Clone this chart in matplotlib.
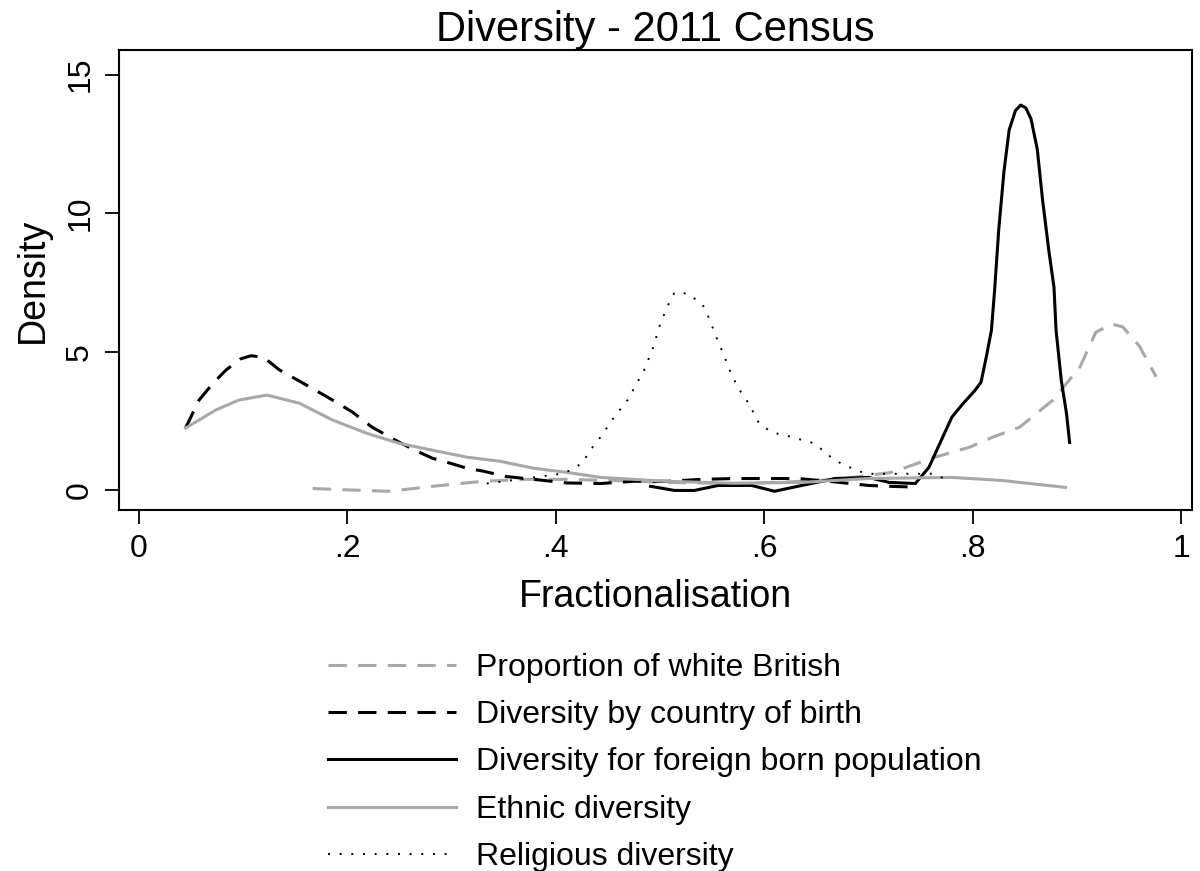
import matplotlib
matplotlib.use("Agg")
import matplotlib.pyplot as plt

plt.rcParams['font.family'] = ['Liberation Sans', 'DejaVu Sans']

# density curves
wb_x = [0.167, 0.2, 0.241, 0.282, 0.33, 0.37, 0.411, 0.46, 0.507, 0.571, 0.62, 0.67,
        0.722, 0.764, 0.797, 0.819, 0.845, 0.877, 0.903, 0.918, 0.933, 0.944, 0.96, 0.976]
wb_y = [0.07, 0.02, -0.03, 0.15, 0.33, 0.4, 0.4, 0.35, 0.29, 0.25, 0.3, 0.4,
        0.65, 1.2, 1.56, 1.92, 2.28, 3.26, 4.46, 5.7, 6.0, 5.9, 5.2, 4.1]

cob_x = [0.045, 0.058, 0.071, 0.084, 0.098, 0.108, 0.12, 0.135, 0.161, 0.186, 0.205, 0.224,
         0.25, 0.265, 0.282, 0.299, 0.315, 0.33, 0.353, 0.379, 0.411, 0.443, 0.475, 0.507,
         0.54, 0.571, 0.604, 0.633, 0.67, 0.70, 0.72, 0.745]
cob_y = [2.25, 3.26, 3.85, 4.35, 4.75, 4.86, 4.8, 4.35, 3.8, 3.26, 2.83, 2.28,
         1.74, 1.45, 1.16, 0.98, 0.8, 0.7, 0.5, 0.4, 0.27, 0.25, 0.33, 0.33,
         0.4, 0.43, 0.43, 0.43, 0.3, 0.18, 0.15, 0.12]

fb_x = [0.491, 0.514, 0.533, 0.556, 0.588, 0.61, 0.626, 0.668, 0.70, 0.72, 0.745, 0.758,
        0.78, 0.79, 0.802, 0.808, 0.813, 0.818, 0.821, 0.825, 0.830, 0.835, 0.841, 0.846,
        0.851, 0.856, 0.862, 0.867, 0.873, 0.878, 0.88, 0.885, 0.89, 0.893]
fb_y = [0.15, 0.0, 0.0, 0.18, 0.18, -0.03, 0.1, 0.43, 0.47, 0.29, 0.25, 0.83,
        2.64, 3.1, 3.6, 3.9, 4.8, 5.78, 7.2, 9.4, 11.5, 13.0, 13.7, 13.9,
        13.8, 13.4, 12.3, 10.5, 8.67, 7.33, 5.78, 3.97, 2.78, 1.73]

eth_x = [0.045, 0.074, 0.096, 0.123, 0.154, 0.186, 0.219, 0.25, 0.282, 0.315, 0.347, 0.379,
         0.411, 0.443, 0.475, 0.507, 0.571, 0.636, 0.70, 0.78, 0.828, 0.889]
eth_y = [2.25, 2.9, 3.26, 3.44, 3.15, 2.54, 2.06, 1.7, 1.45, 1.2, 1.05, 0.8,
         0.65, 0.47, 0.4, 0.33, 0.26, 0.29, 0.43, 0.47, 0.36, 0.11]

rel_x = [0.334, 0.379, 0.401, 0.414, 0.426, 0.433, 0.443, 0.456, 0.469, 0.485, 0.494, 0.499,
         0.507, 0.514, 0.527, 0.541, 0.547, 0.554, 0.562, 0.568, 0.575, 0.585, 0.595, 0.607,
         0.623, 0.648, 0.668, 0.69, 0.70, 0.732, 0.761, 0.778]
rel_y = [0.25, 0.47, 0.58, 0.72, 1.0, 1.45, 1.92, 2.64, 3.26, 4.35, 5.2, 5.87,
         6.63, 7.14, 7.1, 6.7, 6.23, 5.54, 4.82, 4.24, 3.7, 3.15, 2.43, 2.1,
         1.96, 1.7, 1.08, 0.7, 0.6, 0.6, 0.6, 0.36]

x_ticks = [0, 0.2, 0.4, 0.6, 0.8, 1]
x_labels = ["0", ".2", ".4", ".6", ".8", "1"]
y_ticks = [0, 5, 10, 15]

grey = "#a8a8a8"

fig = plt.figure(figsize=(12, 8.71), dpi=100)
ax = fig.add_axes([0.099, 0.414, 0.894, 0.529])

ax.plot(wb_x, wb_y, color=grey, lw=2.2, dashes=(6, 3.7), label="Proportion of white British")
ax.plot(cob_x, cob_y, color="black", lw=2.2, dashes=(6, 3.7), label="Diversity by country of birth")
ax.plot(fb_x, fb_y, color="black", lw=2.2, label="Diversity for foreign born population")
ax.plot(eth_x, eth_y, color=grey, lw=2.2, label="Ethnic diversity")
ax.plot(rel_x, rel_y, color="black", lw=1.4, dashes=(1, 5), label="Religious diversity")

ax.set_xlim(-0.019, 1.01)
ax.set_ylim(-0.72, 15.9)
ax.set_xticks(x_ticks)
ax.set_xticklabels(x_labels)
ax.set_yticks(y_ticks)
ax.set_yticklabels([str(v) for v in y_ticks], rotation=90, va="center")
ax.tick_params(direction="out", length=10, width=1.3, labelsize=23, pad=7)
for s in ax.spines.values():
    s.set_linewidth(1.5)

ax.set_xlabel("Fractionalisation", fontsize=27, labelpad=11)
ax.set_ylabel("Density", fontsize=27, labelpad=10)
ax.set_title("Diversity - 2011 Census", fontsize=30, pad=6)

fig.legend(loc="upper left", bbox_to_anchor=(0.2625, 0.265), frameon=False, fontsize=23,
           handlelength=4.0, handletextpad=0.63, labelspacing=0.54, borderaxespad=0)

fig.savefig("out.png", dpi=100)
